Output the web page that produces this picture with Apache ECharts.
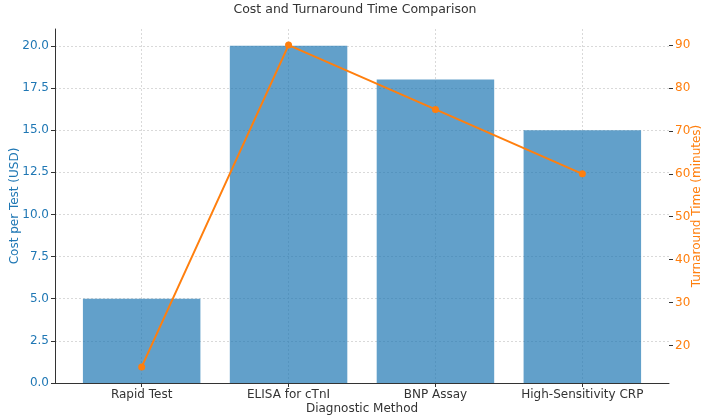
<!DOCTYPE html>
<html>
<head>
<meta charset="UTF-8">
<title>Cost and Turnaround Time Comparison</title>
<script src="https://cdn.jsdelivr.net/npm/echarts@6/dist/echarts.min.js"></script>
<style>
  body { margin: 0; background: #fff; }
  #main { width: 710px; height: 419px; }
</style>
</head>
<body>
<div id="main"></div>
<script>
// data
var methods = ['Rapid Test', 'ELISA for cTnI', 'BNP Assay', 'High-Sensitivity CRP'];
var costUsd = [5, 20, 18, 15];
var turnaroundMin = [15, 90, 75, 60];
var costTicks = [0, 2.5, 5, 7.5, 10, 12.5, 15, 17.5, 20];
var timeTicks = [20, 30, 40, 50, 60, 70, 80, 90];

var idx = methods.map(function (m, i) { return i; });
var font = 'DejaVu Sans';
var blue = '#1f77b4';
var orange = '#ff7f0e';
var gridLine = { show: true, lineStyle: { color: '#d0d0d0', type: [2, 2], width: 0.8 } };

var myChart = echarts.init(document.getElementById('main'));

myChart.setOption({
  animation: false,
  textStyle: { fontFamily: font },
  title: {
    text: 'Cost and Turnaround Time Comparison',
    left: 'center',
    top: -2,
    textStyle: { fontFamily: font, fontSize: 12.5, fontWeight: 'normal', color: '#333' }
  },
  grid: { left: 55, right: 41, top: 29, bottom: 36, outerBoundsMode: 'none', containLabel: false },
  xAxis: {
    type: 'value',
    // matplotlib-style margins around bars of width 0.8
    min: -0.59,
    max: 3.59,
    name: 'Diagnostic Method',
    nameLocation: 'middle',
    nameGap: 20,
    nameMoveOverlap: false,
    nameTextStyle: { fontFamily: font, fontSize: 12, color: '#333' },
    axisLine: { show: true, onZero: false, lineStyle: { color: '#333', width: 1 } },
    axisTick: { show: true, length: 4, customValues: idx, lineStyle: { color: '#333' } },
    axisLabel: {
      customValues: idx,
      margin: 6,
      fontFamily: font, fontSize: 12, color: '#333',
      formatter: function (v) { return methods[Math.round(v)]; }
    },
    splitLine: gridLine
  },
  yAxis: [
    {
      type: 'value',
      min: 0,
      max: 21,
      name: 'Cost per Test (USD)',
      nameLocation: 'middle',
      nameGap: 34,
      nameMoveOverlap: false,
      nameTextStyle: { fontFamily: font, fontSize: 12, color: blue },
      axisLine: { show: true, onZero: false, lineStyle: { color: '#333', width: 1 } },
      axisTick: { show: true, length: 4, customValues: costTicks, lineStyle: { color: '#333' } },
      axisLabel: {
        customValues: costTicks,
        margin: 6,
        fontFamily: font, fontSize: 12, color: blue,
        formatter: function (v) { return v.toFixed(1); }
      },
      splitLine: gridLine
    },
    {
      type: 'value',
      min: 11.25,
      max: 93.75,
      position: 'right',
      name: 'Turnaround Time (minutes)',
      nameLocation: 'middle',
      nameGap: 22,
      nameMoveOverlap: false,
      nameTextStyle: { fontFamily: font, fontSize: 12, color: orange },
      axisLine: { show: false, onZero: false },
      axisTick: { show: true, length: 4, customValues: timeTicks, lineStyle: { color: '#333' } },
      axisLabel: {
        customValues: timeTicks,
        margin: 6,
        fontFamily: font, fontSize: 12, color: orange
      },
      splitLine: { show: false }
    }
  ],
  series: [
    {
      name: 'Cost per Test (USD)',
      type: 'bar',
      yAxisIndex: 0,
      barWidth: 117.5,
      itemStyle: { color: blue, opacity: 0.7 },
      data: idx.map(function (i) { return [i, costUsd[i]]; })
    },
    {
      name: 'Turnaround Time (minutes)',
      type: 'line',
      yAxisIndex: 1,
      symbol: 'circle',
      symbolSize: 7,
      lineStyle: { color: orange, width: 2 },
      itemStyle: { color: orange },
      data: idx.map(function (i) { return [i, turnaroundMin[i]]; }),
      z: 3
    }
  ]
});
</script>
</body>
</html>
